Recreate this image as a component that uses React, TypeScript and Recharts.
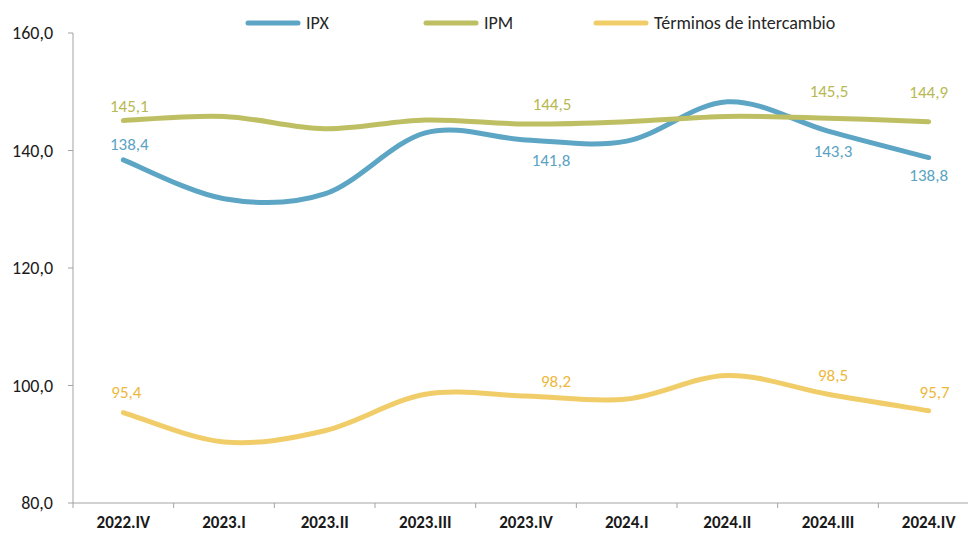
import React from 'react';
import { LineChart, Line, XAxis, YAxis, LabelList } from 'recharts';

// ---- data ----
const categories = ['2022.IV', '2023.I', '2023.II', '2023.III', '2023.IV', '2024.I', '2024.II', '2024.III', '2024.IV'];
const ipx = [138.4, 131.8, 132.6, 143.0, 141.8, 141.6, 148.3, 143.3, 138.8];
const ipm = [145.1, 145.8, 143.7, 145.2, 144.5, 144.9, 145.8, 145.5, 144.9];
const terminos = [95.4, 90.4, 92.3, 98.5, 98.2, 97.7, 101.7, 98.5, 95.7];
const yTicks = [80, 100, 120, 140, 160];
const seriesNames = ['IPX', 'IPM', 'Términos de intercambio'];

// ---- layout / style ----
const W = 990;
const H = 533;
const M = { top: 33, right: 11, bottom: 0, left: 0 };
const Y_AXIS_W = 73;
const X_AXIS_H = 30;
const PLOT_W = W - M.left - M.right - Y_AXIS_W;
const BAND = PLOT_W / categories.length;
const AXIS_Y = H - M.bottom - X_AXIS_H;
const FONT = 'Carlito, Lato, "Open Sans", sans-serif';
const AXIS_COLOR = '#a3a3a3';

const lineColors = ['#5DA5C4', '#BEBF63', '#F1CD69'];
const labelColors = ['#5BA3C2', '#B8B952', '#EDB83B'];

// label offsets (dx, dy) relative to each point, only for labelled points
const labelOffsets: Record<string, Record<number, [number, number]>> = {
  ipx: { 0: [6, -15], 4: [25, 21], 7: [5, 20], 8: [0, 18] },
  ipm: { 0: [6, -14], 4: [26, -20], 7: [1, -27], 8: [0, -29] },
  terminos: { 0: [3, -20], 4: [30, -15], 7: [5, -19], 8: [6, -18] },
};

const data = categories.map((c, i) => ({
  cat: c,
  ipx: ipx[i],
  ipm: ipm[i],
  terminos: terminos[i],
}));

const fmt = (v: number) => v.toFixed(1).replace('.', ',');

// Excel-like smoothed curve (Catmull-Rom through points)
function excelCurve(context: any) {
  let pts: [number, number][] = [];
  return {
    areaStart() {},
    areaEnd() {},
    lineStart() {
      pts = [];
    },
    lineEnd() {
      const n = pts.length;
      if (!n) return;
      context.moveTo(pts[0][0], pts[0][1]);
      if (n === 1) return;
      const t = 1 / 6;
      for (let i = 0; i < n - 1; i++) {
        const p0 = pts[i - 1] || pts[i];
        const p1 = pts[i];
        const p2 = pts[i + 1];
        const p3 = pts[i + 2] || pts[i + 1];
        context.bezierCurveTo(
          p1[0] + (p2[0] - p0[0]) * t,
          p1[1] + (p2[1] - p0[1]) * t,
          p2[0] - (p3[0] - p1[0]) * t,
          p2[1] - (p3[1] - p1[1]) * t,
          p2[0],
          p2[1]
        );
      }
    },
    point(x: number, y: number) {
      pts.push([+x, +y]);
    },
  };
}

const makeLabel = (key: string, color: string) => (props: any) => {
  const { index, value } = props;
  const x = props.x ?? props.viewBox?.x;
  const y = props.y ?? props.viewBox?.y;
  const off = labelOffsets[key][index];
  if (!off || x == null || y == null) return null;
  return (
    <text
      x={x + off[0]}
      y={y + off[1]}
      fill={color}
      textAnchor="middle"
      dominantBaseline="central"
      fontSize={17}
      fontFamily={FONT}
    >
      {fmt(Number(value))}
    </text>
  );
};

const XTick = (props: any) => {
  const { x, payload } = props;
  return (
    <g>
      <line x1={x - BAND / 2} x2={x - BAND / 2} y1={AXIS_Y} y2={AXIS_Y + 5} stroke={AXIS_COLOR} strokeWidth={1} />
      <text
        x={x}
        y={AXIS_Y + 25}
        textAnchor="middle"
        fontWeight="bold"
        fontSize={17}
        fontFamily={FONT}
        fill="#1a1a1a"
      >
        {payload.value}
      </text>
    </g>
  );
};

const legendX = [245, 423, 593];

export default function App() {
  const keys = ['ipx', 'ipm', 'terminos'];
  return (
    <div style={{ position: 'absolute', left: 0, top: 0, width: 968, height: 533, overflow: 'hidden', background: '#fff' }}>
      <LineChart width={W} height={H} data={data} margin={M}>
        <XAxis
          dataKey="cat"
          height={X_AXIS_H}
          axisLine={{ stroke: AXIS_COLOR }}
          tickLine={false}
          tick={<XTick />}
          interval={0}
          padding={{ left: BAND / 2, right: BAND / 2 }}
        />
        <YAxis
          width={Y_AXIS_W}
          domain={[80, 160]}
          ticks={yTicks}
          allowDataOverflow
          axisLine={{ stroke: AXIS_COLOR }}
          tickLine={{ stroke: AXIS_COLOR }}
          tickSize={5}
          tickMargin={15}
          tickFormatter={(v: number) => fmt(v)}
          tick={{ fontSize: 18, fontFamily: FONT, fill: '#1a1a1a' }}
        />
        {keys.map((k, i) => (
          <Line
            key={k}
            dataKey={k}
            name={seriesNames[i]}
            type={excelCurve as any}
            stroke={lineColors[i]}
            strokeWidth={5}
            strokeLinecap="round"
            dot={false}
            activeDot={false}
            isAnimationActive={false}
          >
            <LabelList dataKey={k} content={makeLabel(k, labelColors[i])} />
          </Line>
        ))}
      </LineChart>
      {seriesNames.map((n, i) => (
        <div
          key={n}
          style={{
            position: 'absolute',
            left: legendX[i],
            top: 12,
            height: 22,
            display: 'flex',
            alignItems: 'center',
            fontFamily: FONT,
            fontSize: 18,
            color: '#262626',
            whiteSpace: 'nowrap',
          }}
        >
          <svg width={58} height={8} style={{ display: 'block' }}>
            <line x1={3} y1={4} x2={53} y2={4} stroke={lineColors[i]} strokeWidth={5} strokeLinecap="round" />
          </svg>
          <span style={{ marginLeft: 3 }}>{n}</span>
        </div>
      ))}
    </div>
  );
}
